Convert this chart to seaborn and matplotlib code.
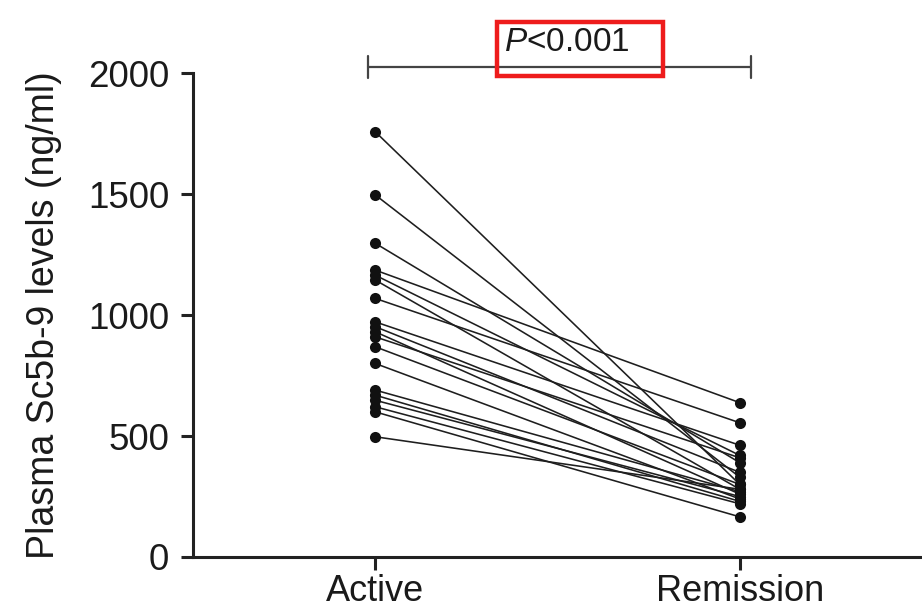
import matplotlib
matplotlib.use("Agg")
import matplotlib.pyplot as plt
import seaborn as sns
import pandas as pd
from matplotlib.patches import Rectangle

# ---- data ----
conditions = ["Active", "Remission"]
active = [1758, 1497, 1297, 1186, 1165, 1145, 1069, 972, 952, 931, 910, 869,
          800, 690, 669, 648, 621, 600, 497]
remission = [300, 330, 390, 638, 420, 280, 555, 462, 350, 260, 410, 300,
             240, 270, 230, 250, 220, 166, 280]
y_ticks = [0, 500, 1000, 1500, 2000]
y_label = "Plasma Sc5b-9 levels (ng/ml)"

rows = []
for i, (a, r) in enumerate(zip(active, remission)):
    rows.append({"pid": i, "cond": conditions[0], "value": a})
    rows.append({"pid": i, "cond": conditions[1], "value": r})
df = pd.DataFrame(rows)
df["x"] = df["cond"].map({c: k for k, c in enumerate(conditions)})

sns.set_style("ticks")
plt.rcParams["font.family"] = ["Liberation Sans", "DejaVu Sans"]
plt.rcParams["mathtext.fontset"] = "custom"
plt.rcParams["mathtext.it"] = "Liberation Sans:italic"
plt.rcParams["mathtext.rm"] = "Liberation Sans"

fig = plt.figure(figsize=(9.22, 6.10), dpi=100)
ax = fig.add_axes([0.2093, 0.0869, 0.7907, 0.7931])

sns.lineplot(data=df, x="x", y="value", units="pid", estimator=None,
             color="#1e1e1e", linewidth=1.15, marker="o", markersize=8,
             markeredgewidth=0, markerfacecolor="#111111", ax=ax, legend=False,
             sort=False)

ax.set_xlim(-0.5, 1.5)
ax.set_ylim(0, 2000)
ax.set_yticks(y_ticks)
ax.set_yticklabels([str(t) for t in y_ticks])
ax.set_xticks([0, 1])
ax.set_xticklabels(conditions)
ax.set_xlabel("")
ax.set_ylabel(y_label, fontsize=27, color="#1a1a1a")
ax.yaxis.set_label_coords(-0.18, 0.5)

for s in ["top", "right"]:
    ax.spines[s].set_visible(False)
for s in ["left", "bottom"]:
    ax.spines[s].set_linewidth(2.2)
    ax.spines[s].set_color("#222222")
ax.tick_params(axis="both", colors="#222222", labelcolor="#1a1a1a",
               length=9, width=2.2, direction="out")
ax.tick_params(axis="y", labelsize=26.5, pad=8)
ax.tick_params(axis="x", labelsize=26, pad=3)

# significance bracket
ax.plot([-0.02, 1.03], [2026, 2026], color="#444444", lw=1.6, clip_on=False)
for xe in (-0.02, 1.03):
    ax.plot([xe, xe], [1980, 2071], color="#444444", lw=1.6, clip_on=False)

ax.text(0.526, 2128, r"$\it{P}$<0.001", ha="center", va="center", fontsize=24,
        color="#1a1a1a", clip_on=False)

# red highlight box (in figure pixels)
fig.patches.append(Rectangle((497 / 922, 1 - 76 / 610), (663 - 497) / 922, (76 - 22) / 610,
                             transform=fig.transFigure, fill=False,
                             edgecolor="#ee1c1c", linewidth=3.2))

fig.savefig("out.png", dpi=100)
